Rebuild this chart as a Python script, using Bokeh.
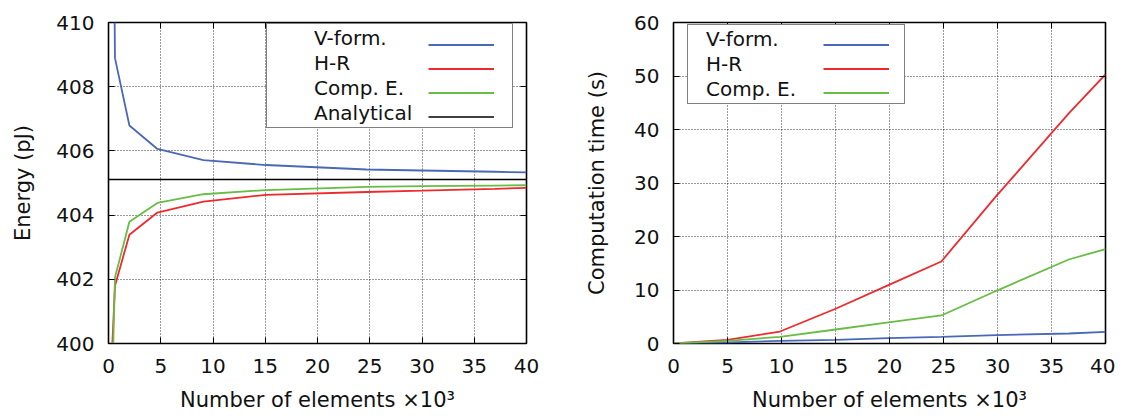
from bokeh.plotting import figure
from bokeh.models import (Range1d, LinearAxis, SingleIntervalTicker, Legend, LegendItem,
                          CustomJSTickFormatter)
from bokeh.layouts import row
from bokeh.embed import file_html
from bokeh.resources import INLINE

# ---------------- data ----------------
X_LIMITS = (0, 40)
ENERGY_LIMITS = (400, 410)
TIME_LIMITS = (0, 60)

energy_x = [0.35, 0.62, 2.0, 4.68, 9.08, 15.06, 24.7, 30.0, 37.0, 40.0]
energy_vform = [418.8, 408.89, 406.79, 406.06, 405.71, 405.56, 405.42, 405.39, 405.35, 405.33]
energy_hr = [399.86, 401.80, 403.39, 404.08, 404.42, 404.63, 404.72, 404.76, 404.82, 404.85]
energy_comp = [398.6, 402.06, 403.79, 404.38, 404.65, 404.78, 404.88, 404.90, 404.92, 404.93]
energy_analytical = 405.11

time_x = [0, 4.99, 9.86, 15.01, 19.9, 24.8, 29.9, 36.6, 40.0]
time_vform = [0, 0.19, 0.50, 0.69, 1.00, 1.25, 1.56, 1.87, 2.18]
time_hr = [0, 0.69, 2.24, 6.49, 10.9, 15.33, 27.6, 43.0, 50.3]
time_comp = [0, 0.50, 1.25, 2.62, 3.93, 5.24, 9.85, 15.7, 17.64]

series_labels = ["V-form.", "H-R", "Comp. E.", "Analytical"]
series_colors = ["#4a68b8", "#ee2a2e", "#68bd45", "#000000"]

FONT = "DejaVu Sans"
FS_TICK = "20px"
FS = "21px"
FS_LEG = "20px"
FRAME_H = 321


def make_fig(ylim, ystep, ylabel, border_left, frame_w, border_right, ylabel_standoff):
    p = figure(frame_width=frame_w, frame_height=FRAME_H,
               min_border_left=border_left, min_border_right=border_right,
               min_border_top=22, min_border_bottom=67,
               x_range=Range1d(*X_LIMITS), y_range=Range1d(*ylim),
               output_backend="svg", toolbar_location=None)
    xt = SingleIntervalTicker(interval=5)
    yt = SingleIntervalTicker(interval=ystep)
    p.xaxis.ticker = xt
    p.yaxis.ticker = yt
    for ax in (p.xaxis[0], p.yaxis[0]):
        ax.major_tick_in = 6
        ax.major_tick_out = 0
        ax.minor_tick_line_color = None
        ax.axis_line_color = None
        ax.major_tick_line_color = "black"
        ax.major_label_text_font = FONT
        ax.major_label_text_font_size = FS_TICK
        ax.major_label_text_color = "#111111"
        ax.axis_label_text_font = FONT
        ax.axis_label_text_font_size = FS
        ax.axis_label_text_font_style = "normal"
        ax.axis_label_text_color = "#111111"
    p.xaxis.major_label_standoff = 11
    p.yaxis.major_label_standoff = 10
    p.xaxis.axis_label = "Number of elements \u00d710\u00b3"
    p.xaxis.axis_label_standoff = 12
    p.yaxis.axis_label = ylabel
    p.yaxis.axis_label_standoff = ylabel_standoff
    blank = CustomJSTickFormatter(code="return '';")
    for side, t in (("right", yt), ("above", xt)):
        ax = LinearAxis(ticker=t, formatter=blank,
                        major_label_standoff=0, major_tick_in=6, major_tick_out=0,
                        minor_tick_line_color=None, axis_line_color=None,
                        major_tick_line_color="black")
        p.add_layout(ax, side)
    for g in (p.xgrid[0], p.ygrid[0]):
        g.grid_line_color = "black"
        g.grid_line_dash = "1 2"
        g.grid_line_width = 1
        g.grid_line_alpha = 0.8
    p.outline_line_color = "black"
    p.outline_line_width = 1.6
    p.outline_line_alpha = 1
    p.background_fill_color = "white"
    p.border_fill_color = "white"
    return p


ROW_H = 23
ROW_GAP = 1
PAD = 2
COMMON = dict(glyph_height=ROW_H, label_height=ROW_H, spacing=ROW_GAP, padding=PAD, margin=0,
              label_text_font=FONT, label_text_font_size=FS_LEG, label_text_color="#111111")


def gnuplot_legend(p, labels, renderers, box_xy, box_w, text_start, line_x):
    """gnuplot-like key: labels first, line samples to their right."""
    text_leg = Legend(items=[LegendItem(label=l, renderers=[rr]) for l, rr in zip(labels, renderers)],
                      location=box_xy, glyph_width=0,
                      label_standoff=text_start,
                      label_width=box_w - 2 * PAD - text_start,
                      border_line_color="black", border_line_width=1.4,
                      background_fill_color="white", background_fill_alpha=1,
                      **COMMON)
    p.add_layout(text_leg)
    line_leg = Legend(items=[LegendItem(label="", renderers=[rr]) for rr in renderers],
                      location=(line_x, box_xy[1]), glyph_width=66, label_width=0,
                      label_standoff=0, border_line_color=None, background_fill_alpha=0,
                      **COMMON)
    p.add_layout(line_leg)


# -------- left: energy --------
p1 = make_fig(ENERGY_LIMITS, 2, "Energy (pJ)", 108, 418, 42, 18)
r = []
for ys_, c in zip([energy_vform, energy_hr, energy_comp], series_colors[:3]):
    r.append(p1.line(energy_x, ys_, line_color=c, line_width=1.8))
r.append(p1.line(list(X_LIMITS), [energy_analytical] * 2, line_color=series_colors[3], line_width=1.6))
gnuplot_legend(p1, series_labels, r, (158, 215), 245, 45, 320)

# -------- right: computation time --------
p2 = make_fig(TIME_LIMITS, 10, "Computation time (s)", 105, 432, 10, 22)
r2 = []
for ys_, c in zip([time_vform, time_hr, time_comp], series_colors[:3]):
    r2.append(p2.line(time_x, ys_, line_color=c, line_width=1.8))
gnuplot_legend(p2, series_labels[:3], r2, (14, 239), 216, 16, 150)

layout = row(p1, p2)
open("out.html", "w").write(file_html(layout, INLINE))
